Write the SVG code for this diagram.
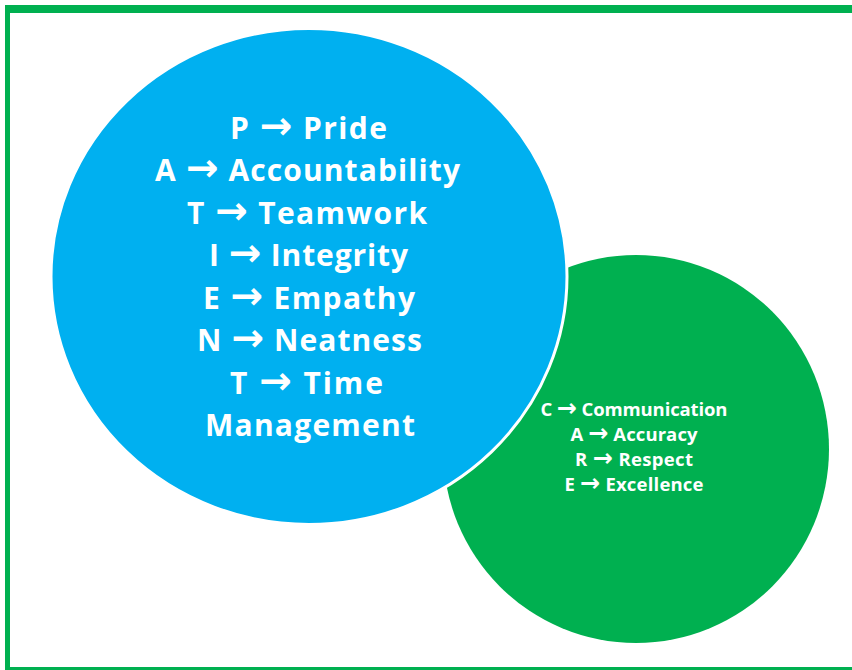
<svg xmlns="http://www.w3.org/2000/svg" width="852" height="670" viewBox="0 0 852 670">
<style>
.frame{fill:#00B050}
.big{font-family:"Open Sans","DejaVu Sans",sans-serif;font-weight:bold;font-size:30px;fill:#fff;text-anchor:middle}
.small{font-family:"Open Sans","DejaVu Sans",sans-serif;font-weight:bold;font-size:18.5px;fill:#fff;text-anchor:middle}
.ar{font-family:"DejaVu Sans",sans-serif;font-weight:bold;font-size:1.3em}
</style>
<rect width="852" height="670" fill="#fff"/>
<g id="frame">
<rect class="frame" x="5" y="5" width="847" height="8"/>
<rect class="frame" x="5" y="5" width="5" height="665"/>
<rect class="frame" x="5" y="667" width="847" height="3"/>
</g>
<g id="connectors"></g>
<g id="care">
<ellipse cx="636" cy="449" rx="193" ry="194" fill="#00B050"/>
<text class="small" x="634" y="416" textLength="187">C <tspan class="ar">→</tspan> Communication</text>
<text class="small" x="634" y="441" textLength="127">A <tspan class="ar">→</tspan> Accuracy</text>
<text class="small" x="634" y="466" textLength="118">R <tspan class="ar">→</tspan> Respect</text>
<text class="small" x="634" y="491" textLength="139">E <tspan class="ar">→</tspan> Excellence</text>
</g>
<g id="patient">
<ellipse cx="309" cy="276.5" rx="258" ry="248" fill="#00B0F0" stroke="#fff" stroke-width="3"/>
<text class="big" x="308.5" y="139" textLength="157">P <tspan class="ar">→</tspan> Pride</text>
<text class="big" x="307.5" y="181" textLength="305">A <tspan class="ar">→</tspan> Accountability</text>
<text class="big" x="307" y="223.5" textLength="240">T <tspan class="ar">→</tspan> Teamwork</text>
<text class="big" x="308.5" y="266" textLength="199">I <tspan class="ar">→</tspan> Integrity</text>
<text class="big" x="309" y="308.5" textLength="212">E <tspan class="ar">→</tspan> Empathy</text>
<text class="big" x="309.5" y="351" textLength="225">N <tspan class="ar">→</tspan> Neatness</text>
<text class="big" x="306.5" y="393.5" textLength="153">T <tspan class="ar">→</tspan> Time</text>
<text class="big" x="310" y="436" textLength="210">Management</text>
</g>
</svg>
